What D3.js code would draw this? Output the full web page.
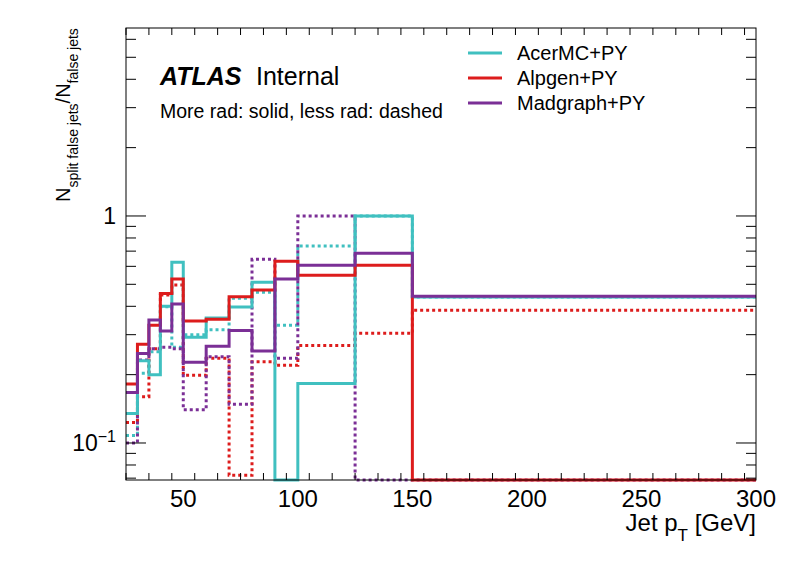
<!DOCTYPE html>
<html><head><meta charset="utf-8">
<script src="https://cdn.jsdelivr.net/npm/d3@7"></script>
<style>body{margin:0;background:#fff}text{font-family:"Liberation Sans",Arial,sans-serif}</style>
</head><body><svg id="c" width="796" height="572"></svg>
<script>
// bin edges in GeV
const edges = [25,30,35,40,45,50,60,70,80,90,100,125,150,300];
// ratio per bin, 0 = empty bin
const acerMore = [0.135,0.23,0.2,0.40,0.626,0.292,0.355,0.397,0.51,0,0.183,1.0,0.44];
const acerLess = [0.108,0.203,0.252,0.398,0.264,0.30,0.315,0.434,0.461,0.33,0.738,1.0,0.44];
const alpMore = [0.182,0.272,0.33,0.456,0.528,0.345,0.351,0.441,0.472,0.631,0.548,0.607,0];
const alpLess = [0.123,0.16,0.26,0.449,0.497,0.199,0.236,0.072,0.228,0.22,0.269,0.304,0.384];
const madMore = [0.167,0.248,0.348,0.311,0.41,0.227,0.267,0.313,0.254,0.528,0.607,0.685,0.443];
const madLess = [0.1,0.232,0.26,0.264,0.26,0.14,0.24,0.148,0.644,0.236,1.0,0,0];

const svg = d3.select("#c");
const L = 126, R = 756, T = 28, B = 480;
const x = d3.scaleLinear().domain([25,300]).range([L,R]);
const ymin = 0.0687, ymax = 6.73;
const y = d3.scaleLog().domain([ymin,ymax]).range([B,T]);

function path(vals){
  let pts = [];
  vals.forEach((v,i)=>{
    const yy = v > 0 ? y(v) : B;
    pts.push([x(edges[i]),yy],[x(edges[i+1]),yy]);
  });
  return d3.line()(pts);
}

const series = [
  {v: acerLess, c:"#40c0c0", d:true},
  {v: alpLess, c:"#dd1c1c", d:true},
  {v: madLess, c:"#7b2f96", d:true},
  {v: acerMore, c:"#40c0c0", d:false},
  {v: alpMore, c:"#dd1c1c", d:false},
  {v: madMore, c:"#7b2f96", d:false}
];
series.forEach(s=>{
  svg.append("path").attr("d",path(s.v)).attr("fill","none")
    .attr("stroke",s.c).attr("stroke-width",3)
    .attr("stroke-dasharray",s.d?"3,3":null);
});

// frame
svg.append("rect").attr("x",L).attr("y",T).attr("width",R-L).attr("height",B-T)
  .attr("fill","none").attr("stroke","#000").attr("stroke-width",1);

// x ticks
for(let v=25; v<=300; v+=10){
  const major = v%50===0;
  [B,T].forEach(b=>{
    svg.append("line").attr("x1",x(v)).attr("x2",x(v)).attr("y1",b)
      .attr("y2", b===B ? b-(major?14:7) : b+(major?14:7)).attr("stroke","#000");
  });
}
[50,100,150,200,250,300].forEach(v=>{
  svg.append("text").attr("x",x(v)).attr("y",507).attr("text-anchor","middle")
    .attr("font-size",24).text(v);
});
svg.append("text").attr("x",756).attr("y",531).attr("text-anchor","end")
  .attr("font-size",24).html('Jet p<tspan baseline-shift="sub" font-size="17">T</tspan> [GeV]');

// y ticks (log)
const yt = [];
for(let d=0.01; d<10; d*=10){ for(let k=1;k<10;k++){ const v=+(d*k).toPrecision(2); if(v>=ymin&&v<=ymax) yt.push(v);} }
yt.forEach(v=>{
  const major = Math.abs(Math.log10(v)-Math.round(Math.log10(v)))<1e-6;
  [L,R].forEach(b=>{
    svg.append("line").attr("y1",y(v)).attr("y2",y(v)).attr("x1",b)
      .attr("x2", b===L ? b+(major?20:10) : b-(major?20:10)).attr("stroke","#000");
  });
});
svg.append("text").attr("x",116).attr("y",y(1)+8).attr("text-anchor","end").attr("font-size",23).text("1");
svg.append("text").attr("x",116).attr("y",y(0.1)+8).attr("text-anchor","end").attr("font-size",23)
  .html('10<tspan dy="-9" font-size="16">−1</tspan>');

svg.append("text").attr("transform","translate(70,115) rotate(-90)").attr("text-anchor","middle")
  .attr("font-size",20)
  .html('N<tspan baseline-shift="sub" font-size="14">split false jets</tspan>/N<tspan baseline-shift="sub" font-size="14">false jets</tspan>');

// labels
svg.append("text").attr("x",160).attr("y",85).attr("font-size",25).attr("font-weight","bold")
  .attr("font-style","italic").text("ATLAS");
svg.append("text").attr("x",256).attr("y",85).attr("font-size",25).text("Internal");
svg.append("text").attr("x",160).attr("y",118).attr("font-size",19.5).text("More rad: solid, less rad: dashed");

// legend
const leg = [["AcerMC+PY","#40c0c0"],["Alpgen+PY","#dd1c1c"],["Madgraph+PY","#7b2f96"]];
leg.forEach((l,i)=>{
  const yy = 53 + i*25;
  svg.append("line").attr("x1",468).attr("x2",502).attr("y1",yy).attr("y2",yy)
    .attr("stroke",l[1]).attr("stroke-width",3);
  svg.append("text").attr("x",517).attr("y",yy+7).attr("font-size",20).text(l[0]);
});
</script></body></html>
